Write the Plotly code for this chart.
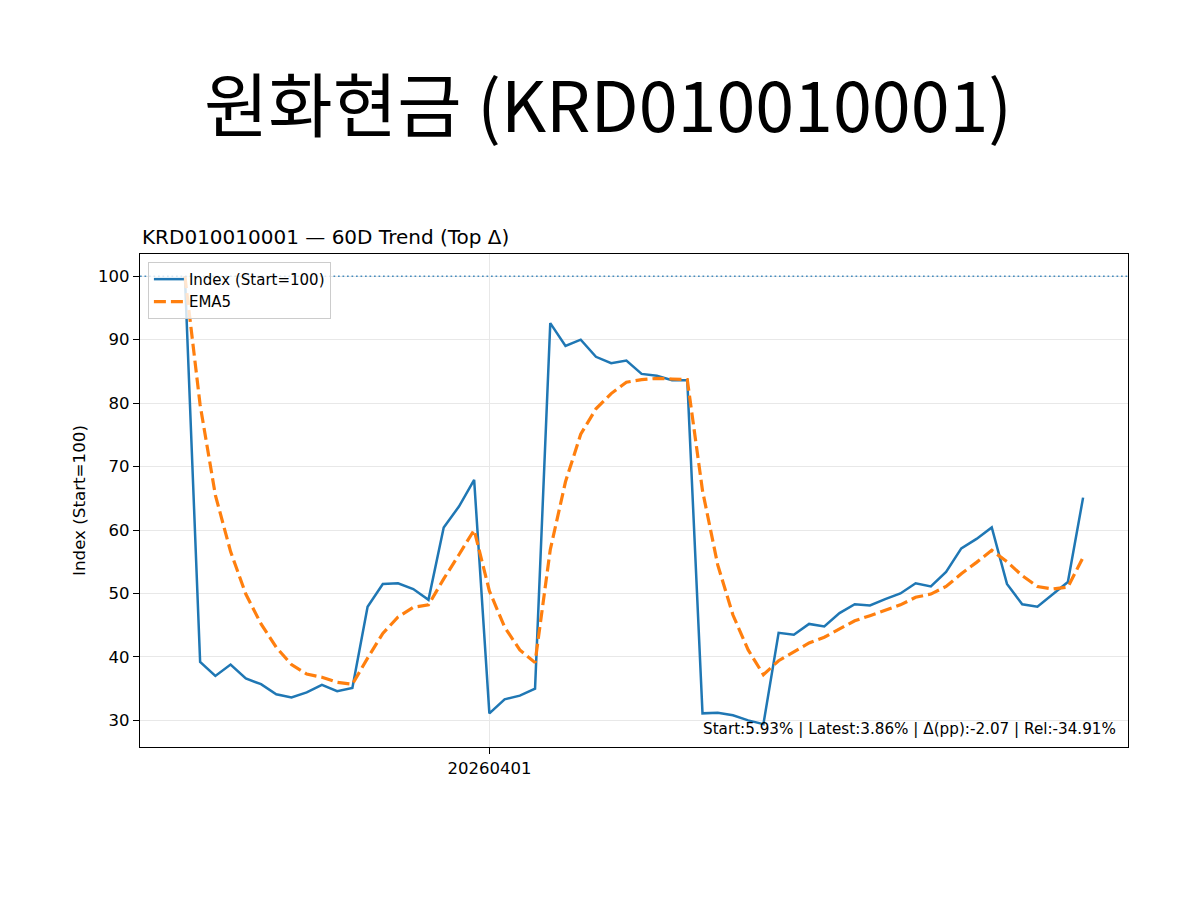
import pandas as pd
import plotly.graph_objects as go

# trading dates (index 20 is 2026-04-01)
dates = pd.bdate_range("2026-03-04", periods=60).strftime("%Y%m%d").tolist()
tick_labels = ["20260401"]

index_vals = [100, 39.2, 37.0, 38.8, 36.6, 35.7, 34.1, 33.6, 34.4, 35.6,
              34.6, 35.1, 47.9, 51.5, 51.6, 50.7, 49.0, 60.4, 63.7, 67.9,
              31.1, 33.3, 33.9, 35.0, 92.6, 89.0, 90.0, 87.3, 86.3, 86.7,
              84.6, 84.3, 83.6, 83.6, 31.1, 31.2, 30.8, 30.0, 29.4, 43.8,
              43.5, 45.2, 44.8, 46.9, 48.3, 48.1, 49.1, 50.0, 51.6, 51.1,
              53.4, 57.1, 58.6, 60.4, 51.5, 48.3, 47.9, 49.8, 51.8, 65.1]

ema5_vals = [100, 79.7, 65.5, 56.6, 49.9, 45.2, 41.5, 38.8, 37.3, 36.8,
             36.0, 35.7, 39.8, 43.7, 46.3, 47.8, 48.2, 52.3, 56.1, 60.0,
             50.4, 44.7, 41.1, 39.1, 56.9, 67.6, 75.1, 79.1, 81.5, 83.3,
             83.7, 83.9, 83.8, 83.7, 66.2, 54.5, 46.6, 41.1, 37.2, 39.4,
             40.8, 42.2, 43.1, 44.4, 45.7, 46.5, 47.4, 48.2, 49.4, 49.9,
             51.1, 53.1, 54.9, 56.8, 55.0, 52.8, 51.1, 50.7, 51.0, 55.7]

base_level = 100
stats_text = "Start:5.93% | Latest:3.86% | Δ(pp):-2.07 | Rel:-34.91%"

main_title = "원화현금 (KRD010010001)"
sub_title = "KRD010010001 — 60D Trend (Top Δ)"

font = "DejaVu Sans, sans-serif"

fig = go.Figure()

fig.add_trace(go.Scatter(
    x=dates, y=index_vals, mode="lines", name="Index (Start=100)",
    line=dict(color="#1f77b4", width=2.5)
))
fig.add_trace(go.Scatter(
    x=dates, y=ema5_vals, mode="lines", name="EMA5",
    line=dict(color="#ff7f0e", width=3.2, dash="12px,5px")
))

fig.add_hline(y=base_level, line=dict(color="#1f77b4", width=1.5, dash="1.7px,2.8px"),
              opacity=0.8)

fig.update_layout(
    width=1200, height=900,
    paper_bgcolor="white", plot_bgcolor="white",
    margin=dict(l=132, r=80, t=246, b=161),
    font=dict(family=font, size=16.5, color="black"),
    title=dict(text=main_title, x=0.5, xref="container", xanchor="center",
               y=1 - 99 / 900, yref="container", yanchor="middle",
               font=dict(family="Noto Sans CJK KR, sans-serif", size=70, color="black")),
    showlegend=True,
    legend=dict(x=0.008, y=0.984, xanchor="left", yanchor="top",
                bgcolor="rgba(255,255,255,0.8)", bordercolor="#cccccc", borderwidth=1,
                font=dict(family=font, size=15), tracegroupgap=0, itemwidth=30),
    annotations=[
        dict(text=sub_title, x=0, y=1, xref="paper", yref="paper",
             xanchor="left", yanchor="bottom", yshift=3, showarrow=False,
             font=dict(family=font, size=20, color="black")),
        dict(text=stats_text, x=0.99, y=0.014, xref="paper", yref="paper",
             xanchor="right", yanchor="bottom", showarrow=False,
             font=dict(family=font, size=15.2, color="black")),
    ],
)

fig.update_xaxes(
    type="category", range=[-2.95, 61.95],
    tickmode="array", tickvals=tick_labels, ticktext=tick_labels,
    ticks="outside", ticklen=6, tickcolor="black", tickwidth=1.3,
    showline=True, linecolor="black", linewidth=1.3, mirror=True,
    showgrid=True, gridcolor="#e8e8e8", gridwidth=1.3, zeroline=False,
    tickfont=dict(family=font, size=16.5),
)
fig.update_yaxes(
    range=[25.8, 103.5],
    tickvals=[30, 40, 50, 60, 70, 80, 90, 100],
    ticks="outside", ticklen=6, tickcolor="black", tickwidth=1.3,
    showline=True, linecolor="black", linewidth=1.3, mirror=True,
    showgrid=True, gridcolor="#e8e8e8", gridwidth=1.3, zeroline=False,
    tickfont=dict(family=font, size=16.5),
    title=dict(text="Index (Start=100)", font=dict(family=font, size=16.7), standoff=8),
)

fig.write_html("out.html")
